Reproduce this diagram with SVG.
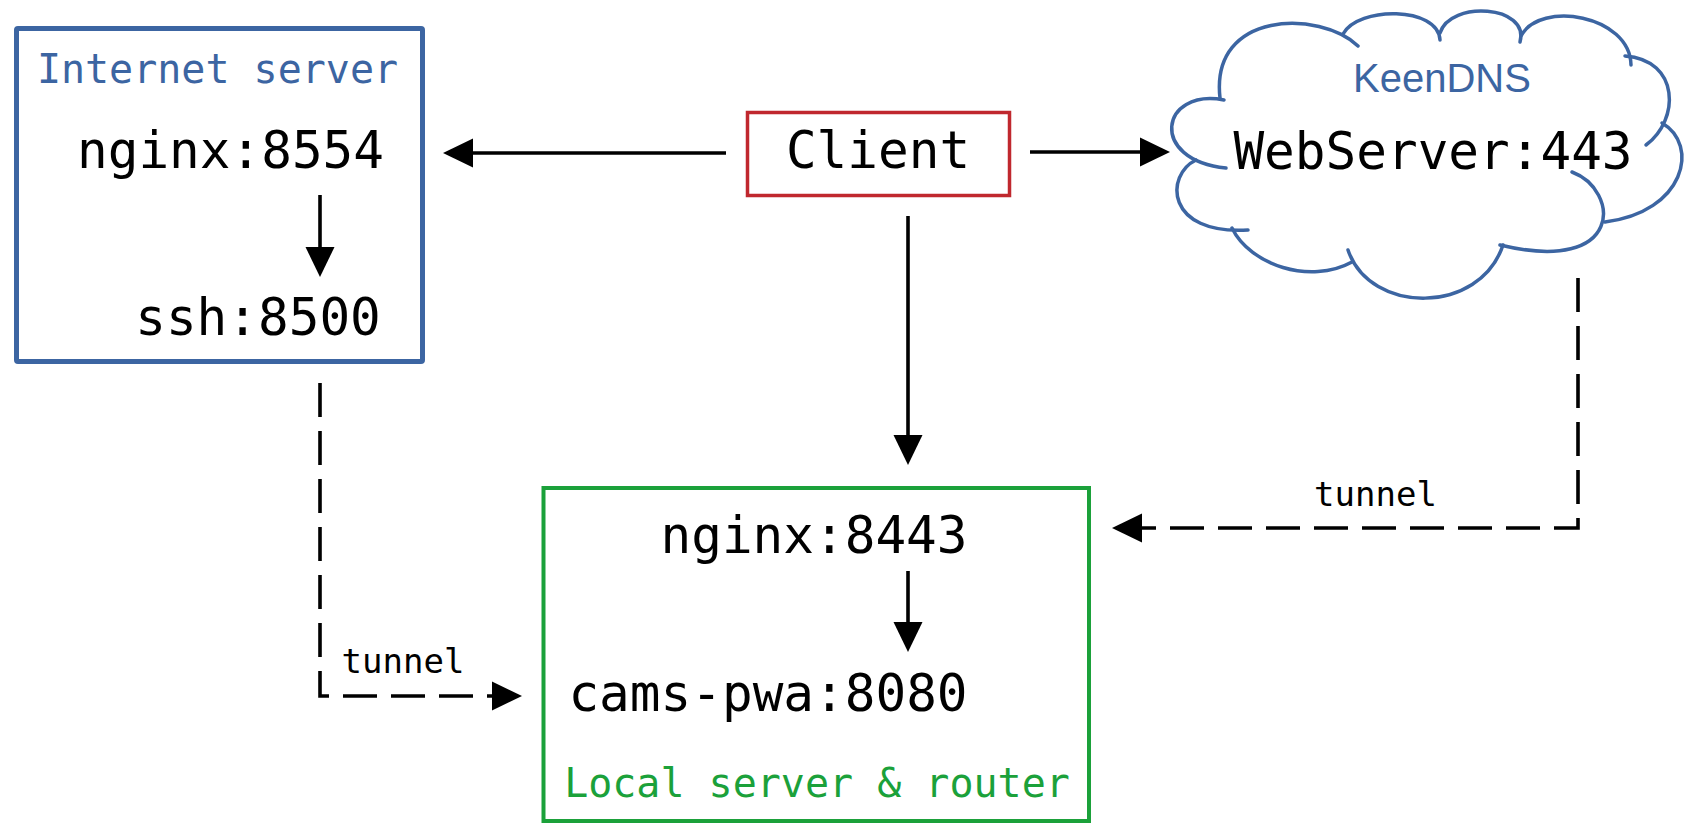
<svg xmlns="http://www.w3.org/2000/svg" width="1689" height="835" viewBox="0 0 1689 835">
  <style>
    .mono { font-family: "DejaVu Sans Mono", "Liberation Mono", monospace; }
    .big { font-size: 51px; fill: #000; text-anchor: middle; }
    .title { font-size: 40px; text-anchor: middle; }
    .small { font-size: 34px; fill: #000; text-anchor: middle; }
    .conn { stroke: #000; stroke-width: 3.6; fill: none; }
    .dash { stroke-dasharray: 34 14; }
    .cloud { stroke: #3c65a2; stroke-width: 3.5; fill: none; stroke-linecap: round; }
  </style>
  <defs>
    <marker id="arrow" markerUnits="userSpaceOnUse" markerWidth="30" markerHeight="30" refX="10" refY="14.5" orient="auto" viewBox="0 0 30 29">
      <path d="M0,0 L30,14.5 L0,29 Z" fill="#000"/>
    </marker>
  </defs>
  <rect width="1689" height="835" fill="#fff"/>

  <g id="internet-server">
    <rect x="16.5" y="28.5" width="406" height="333" fill="none" stroke="#3c65a2" stroke-width="5" rx="1.5"/>
    <text class="mono title" x="217.5" y="83" fill="#3c65a2">Internet server</text>
    <text class="mono big" x="230.5" y="168">nginx:8554</text>
    <text class="mono big" x="258" y="335">ssh:8500</text>
  </g>

  <g id="client">
    <rect x="747.5" y="112.5" width="262" height="83" fill="none" stroke="#c0282e" stroke-width="3.5"/>
    <text class="mono big" x="878" y="168">Client</text>
  </g>

  <g id="keendns">
    <path class="cloud" d="M1224,100 C1160,88 1148,160 1226,168"/>
    <path class="cloud" d="M1196,160 C1165,175 1165,235 1248,230"/>
    <path class="cloud" d="M1232,228 C1250,265 1310,285 1352,262"/>
    <path class="cloud" d="M1348,250 C1370,315 1480,315 1503,245"/>
    <path class="cloud" d="M1572,172 C1620,190 1625,275 1500,245"/>
    <path class="cloud" d="M1605,222 C1685,212 1700,145 1662,123"/>
    <path class="cloud" d="M1646,145 C1680,120 1680,60 1625,56"/>
    <path class="cloud" d="M1631,65 C1630,15 1540,0 1521,36"/>
    <path class="cloud" d="M1520,42 C1530,5 1450,0 1440,33"/>
    <path class="cloud" d="M1440,40 C1438,6 1358,6 1343,34"/>
    <path class="cloud" d="M1358,46 C1320,10 1210,10 1220,98"/>
    <text x="1442" y="92" font-family="'Liberation Sans', Arial, sans-serif" font-size="40" fill="#3c65a2" text-anchor="middle">KeenDNS</text>
    <text class="mono big" x="1433" y="169">WebServer:443</text>
  </g>

  <g id="local-server">
    <rect x="543.5" y="488" width="545.5" height="333" fill="none" stroke="#1ba13a" stroke-width="4"/>
    <text class="mono big" x="814" y="553">nginx:8443</text>
    <text class="mono big" x="768" y="711">cams-pwa:8080</text>
    <text class="mono title" x="817" y="797" fill="#1ba13a">Local server &amp; router</text>
  </g>

  <g id="connectors">
    <path class="conn" d="M726,153 L463,153" marker-end="url(#arrow)"/>
    <path class="conn" d="M1030,152 L1150,152" marker-end="url(#arrow)"/>
    <path class="conn" d="M908,216 L908,445" marker-end="url(#arrow)"/>
    <path class="conn" d="M320,195 L320,257" marker-end="url(#arrow)"/>
    <path class="conn" d="M908,571 L908,632" marker-end="url(#arrow)"/>
    <path class="conn dash" d="M320,383 L320,696 L502,696" marker-end="url(#arrow)"/>
    <path class="conn dash" d="M1578,278 L1578,528 L1132,528" marker-end="url(#arrow)"/>
    <text class="mono small" x="403" y="673">tunnel</text>
    <text class="mono small" x="1375.5" y="506">tunnel</text>
  </g>
</svg>
